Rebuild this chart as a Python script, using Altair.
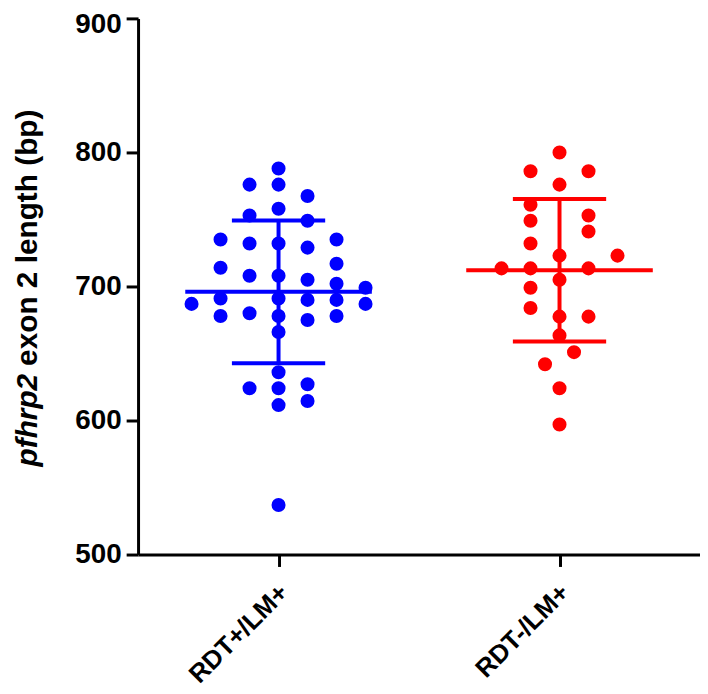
import altair as alt
import pandas as pd

# ---------------- data ----------------
categories = ["RDT+/LM+", "RDT-/LM+"]
colors = ["#0000FF", "#FF0000"]

# pfhrp2 exon 2 length (bp) for each sample, with its beeswarm lane (half-lane units)
blue_values = [788, 776, 776, 767.5, 758, 753, 749, 735, 735, 732, 732, 729,
               714, 717, 708, 708, 705, 702, 699, 687, 687, 691, 691, 690, 690,
               678, 680, 678, 675, 678, 666, 636, 624, 624, 627, 611.5, 614.5, 537]
blue_lanes = [0, -2, 0, 2, 0, -2, 2, -4, 4, -2, 0, 2,
              -4, 4, -2, 0, 2, 4, 6, -6, 6, -4, 0, 2, 4,
              -4, -2, 0, 2, 4, 0, 0, -2, 0, 2, 0, 2, 0]

red_values = [800, 786, 786, 776, 761, 749, 753, 741, 732, 723, 723,
              713.5, 713.5, 713.5, 705, 699, 684, 677.5, 677.5, 663.5,
              651, 642, 624, 597]
red_lanes = [0, -2, 2, 0, -2, -2, 2, 2, -2, 0, 4,
             -4, -2, 2, 0, -2, -2, 0, 2, 0,
             1, -1, 0, 0]

y_ticks = [500, 600, 700, 800, 900]
y_title_italic = "pfhrp2"
y_title_rest = "exon 2 length (bp)"

rows = []
for i, (vals, lanes) in enumerate([(blue_values, blue_lanes), (red_values, red_lanes)]):
    for v, l in zip(vals, lanes):
        rows.append({"group": categories[i], "idx": i, "length": v, "lane": l})
df = pd.DataFrame(rows)

# ---------------- layout ----------------
W, H = 566, 540
LANE = 0.0516      # x-units per half lane
MEAN_HALF = 0.332  # half width of mean line (x-units)
CAP_HALF = 0.166   # half width of SD caps (x-units)
FONT = "Liberation Sans"

xscale = alt.Scale(domain=[-0.5, 1.5], nice=False, zero=False)
yscale = alt.Scale(domain=[y_ticks[0], y_ticks[-1]], nice=False, zero=False)
color = alt.Color("group:N", scale=alt.Scale(domain=categories, range=colors), legend=None)

label_expr = "datum.value == 0 ? '%s' : '%s'" % (categories[0], categories[1])

x_axis = alt.Axis(values=[0, 1], labelExpr=label_expr, title=None, labelAngle=-45,
                  labelAlign="right", labelBaseline="middle", labelFont=FONT,
                  labelFontWeight="bold", labelFontSize=26, labelColor="black",
                  labelPadding=22, labelOffset=5, tickSize=12, tickWidth=3, tickColor="black",
                  domainColor="black", domainWidth=3, grid=False)
y_axis = alt.Axis(values=y_ticks, title=None, labelFont=FONT, labelFontWeight="bold",
                  labelFontSize=28, labelColor="black", labelPadding=5, tickSize=12,
                  labelOffset={"condition": {"test": f"datum.value == {y_ticks[-1]}", "value": 6},
                               "value": 0},
                  tickWidth=3, tickColor="black", domainColor="black", domainWidth=3,
                  grid=False)

base = alt.Chart(df)

points = base.transform_calculate(
    xp=f"datum.idx + datum.lane * {LANE}"
).mark_circle(size=200, opacity=1).encode(
    x=alt.X("xp:Q", scale=xscale, axis=x_axis),
    y=alt.Y("length:Q", scale=yscale, axis=y_axis),
    color=color,
)

stats = base.transform_aggregate(
    m="mean(length)", sd="stdev(length)", groupby=["idx", "group"]
).transform_calculate(
    lo="datum.m - datum.sd",
    hi="datum.m + datum.sd",
    ml=f"datum.idx - {MEAN_HALF}",
    mr=f"datum.idx + {MEAN_HALF}",
    cl=f"datum.idx - {CAP_HALF}",
    cr=f"datum.idx + {CAP_HALF}",
)

mean_rule = stats.mark_rule(strokeWidth=4).encode(
    x=alt.X("ml:Q", scale=xscale, axis=x_axis), x2="mr:Q",
    y=alt.Y("m:Q", scale=yscale, axis=y_axis), color=color)
hi_rule = stats.mark_rule(strokeWidth=4).encode(
    x=alt.X("cl:Q", scale=xscale, axis=x_axis), x2="cr:Q",
    y=alt.Y("hi:Q", scale=yscale, axis=y_axis), color=color)
lo_rule = stats.mark_rule(strokeWidth=4).encode(
    x=alt.X("cl:Q", scale=xscale, axis=x_axis), x2="cr:Q",
    y=alt.Y("lo:Q", scale=yscale, axis=y_axis), color=color)
vert_rule = stats.mark_rule(strokeWidth=4).encode(
    x=alt.X("idx:Q", scale=xscale, axis=x_axis),
    y=alt.Y("lo:Q", scale=yscale, axis=y_axis), y2="hi:Q", color=color)

TITLE_X = -111
TITLE_SIZE = 30
title_it = alt.Chart(pd.DataFrame({"t": [y_title_italic]})).mark_text(
    angle=270, align="right", baseline="middle", font=FONT, fontSize=TITLE_SIZE,
    fontStyle="italic", fontWeight="bold", color="black"
).encode(x=alt.value(TITLE_X), y=alt.value(358), text="t:N")
title_rest = alt.Chart(pd.DataFrame({"t": [y_title_rest]})).mark_text(
    angle=270, align="left", baseline="middle", font=FONT, fontSize=TITLE_SIZE,
    fontWeight="bold", color="black"
).encode(x=alt.value(TITLE_X), y=alt.value(350), text="t:N")

chart = alt.layer(points, mean_rule, hi_rule, lo_rule, vert_rule, title_it, title_rest).properties(
    width=W, height=H,
    autosize=alt.AutoSizeParams(type="none"),
    padding={"left": 131, "top": 8, "right": 0, "bottom": 140},
).configure_view(stroke=None)

chart.save("out.html", embed_options={"renderer": "svg", "actions": False})
